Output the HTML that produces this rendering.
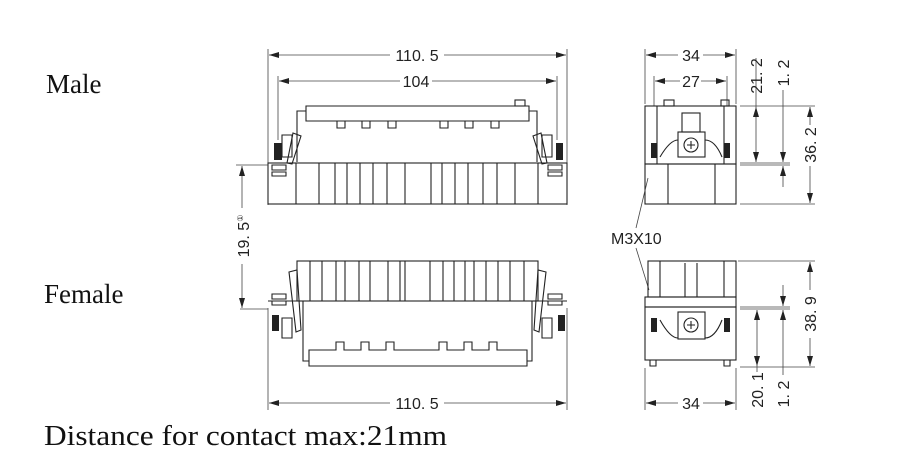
<!DOCTYPE html>
<html><head><meta charset="utf-8"><style>
html,body{margin:0;padding:0;background:#fff;width:900px;height:462px;overflow:hidden}
svg{display:block}
.l{stroke:#222;stroke-width:1.1;fill:none}
.t{stroke:#444;stroke-width:0.8;fill:none}
.d{font-family:"Liberation Sans",sans-serif;font-size:16px;fill:#222}
.s{font-family:"Liberation Serif",serif;fill:#111}
</style></head><body>
<svg width="900" height="462" viewBox="0 0 900 462" xmlns="http://www.w3.org/2000/svg">
<defs>
<marker id="a" viewBox="0 0 10 6" refX="10" refY="3" markerWidth="10" markerHeight="6" orient="auto-start-reverse" markerUnits="userSpaceOnUse"><path d="M0,0 L10,3 L0,6 z" fill="#222"/></marker>
</defs>
<text class="s" x="46" y="93" font-size="27">Male</text>
<text class="s" x="44" y="303" font-size="27">Female</text>
<text class="s" x="44" y="445" font-size="28" textLength="403" lengthAdjust="spacingAndGlyphs">Distance for contact max:21mm</text>

<!-- Male front -->
<g class="t">
<line x1="268" y1="49" x2="268" y2="205"/><line x1="567" y1="49" x2="567" y2="205"/>
<line x1="278" y1="76" x2="278" y2="140"/><line x1="557" y1="76" x2="557" y2="140"/>
</g>
<line class="t" x1="269" y1="55" x2="390" y2="55" marker-start="url(#a)"/>
<line class="t" x1="444" y1="55" x2="566" y2="55" marker-end="url(#a)"/>
<text class="d" x="417" y="61" text-anchor="middle">110. 5</text>
<line class="t" x1="279" y1="81" x2="400" y2="81" marker-start="url(#a)"/>
<line class="t" x1="432" y1="81" x2="556" y2="81" marker-end="url(#a)"/>
<text class="d" x="416" y="87" text-anchor="middle">104</text>
<g class="l">
<path d="M306,106 H529 V121 H306 Z"/>
<path d="M297,162 V111 H306 M529,111 H537 V162"/>
<path d="M337,121 v7 h8 v-7 M362,121 v7 h8 v-7 M388,121 v7 h8 v-7 M440,121 v7 h8 v-7 M465,121 v7 h8 v-7 M491,121 v7 h8 v-7"/>
<rect x="515" y="100" width="10" height="6"/>
<rect x="268" y="163" width="299" height="41"/>
<path d="M296,163V204 M319,163V204 M335,163V204 M347,163V204 M360,163V204 M373,163V204 M387,163V204 M405,163V204 M431,163V204 M442,163V204 M455,163V204 M468,163V204 M483,163V204 M497,163V204 M515,163V204 M538,163V204"/>
<path d="M293,133 L301,136 L292,164 L287,163 Z M541,133 L533,136 L542,164 L547,163 Z"/>
<path d="M282,135 h10 v22 h-10 z M552,135 h-10 v22 h10 z"/>
<path d="M272,165 h14 v5 h-14 z M272,172 h14 v4 h-14 z M562,165 h-14 v5 h14 z M562,172 h-14 v4 h14 z"/>
</g>
<rect x="274" y="143" width="8" height="17" fill="#222"/>
<rect x="556" y="143" width="7" height="17" fill="#222"/>

<!-- 19.5 -->
<line class="t" x1="236" y1="165" x2="268" y2="165"/>
<line class="t" x1="240" y1="309" x2="268" y2="309"/>
<line class="t" x1="242" y1="166" x2="242" y2="208" marker-start="url(#a)"/>
<line class="t" x1="242" y1="264" x2="242" y2="308" marker-end="url(#a)"/>
<text class="d" transform="translate(249,236) rotate(-90)" text-anchor="middle">19. 5<tspan font-size="8" dy="-6">①</tspan></text>

<!-- Female front -->
<g class="l">
<rect x="297" y="261" width="241" height="40"/>
<path d="M310,261V301 M322,261V301 M336,261V301 M345,261V301 M359,261V301 M370,261V301 M388,261V301 M400,261V301 M405,261V301 M430,261V301 M443,261V301 M454,261V301 M465,261V301 M474,261V301 M486,261V301 M498,261V301 M510,261V301 M524,261V301"/>
<line x1="268" y1="301" x2="567" y2="301"/>
<path d="M303,301 V361 H309 M532,301 V361 H527"/>
<path d="M309,350 H336 v-8 h8 v8 h17 v-8 h8 v8 h17 v-8 h8 v8 h45 v-8 h8 v8 h17 v-8 h8 v8 h17 v-8 h8 v8 H527 V366 H309 Z"/>
<path d="M289,272 L297,270 L301,330 L296,332 Z M546,272 L538,270 L534,330 L539,332 Z"/>
<path d="M282,318 h10 v20 h-10 z M552,318 h-10 v20 h10 z"/>
<path d="M272,294 h14 v5 h-14 z M272,301 h14 v4 h-14 z M562,294 h-14 v5 h14 z M562,301 h-14 v4 h14 z"/>
</g>
<rect x="272" y="315" width="7" height="16" fill="#222"/>
<rect x="558" y="315" width="7" height="16" fill="#222"/>
<line class="t" x1="268" y1="308" x2="268" y2="410"/><line class="t" x1="567" y1="308" x2="567" y2="410"/>
<line class="t" x1="269" y1="403" x2="390" y2="403" marker-start="url(#a)"/>
<line class="t" x1="444" y1="403" x2="566" y2="403" marker-end="url(#a)"/>
<text class="d" x="417" y="409" text-anchor="middle">110. 5</text>

<!-- Male side -->
<g class="t">
<line x1="645" y1="49" x2="645" y2="104"/><line x1="736" y1="49" x2="736" y2="104"/>
<line x1="654" y1="76" x2="654" y2="106"/><line x1="727" y1="76" x2="727" y2="106"/>
<line x1="740" y1="106" x2="815" y2="106"/><line x1="740" y1="163" x2="790" y2="163"/><line x1="740" y1="165" x2="790" y2="165"/><line x1="740" y1="204" x2="815" y2="204"/>
</g>
<line class="t" x1="646" y1="55" x2="678" y2="55" marker-start="url(#a)"/>
<line class="t" x1="703" y1="55" x2="735" y2="55" marker-end="url(#a)"/>
<text class="d" x="691" y="61" text-anchor="middle">34</text>
<line class="t" x1="655" y1="81" x2="680" y2="81" marker-start="url(#a)"/>
<line class="t" x1="701" y1="81" x2="726" y2="81" marker-end="url(#a)"/>
<text class="d" x="691" y="87" text-anchor="middle">27</text>
<g class="l">
<rect x="645" y="106" width="91" height="58"/>
<rect x="645" y="164" width="91" height="40"/>
<path d="M657,106V164 M724,106V164 M668,164V204 M715,164V204"/>
<rect x="664" y="100" width="10" height="6"/><rect x="721" y="100" width="8" height="6"/>
<rect x="678" y="132" width="27" height="25"/><circle cx="691" cy="145" r="7"/>
<path d="M687,145h8M691,141v8 M660,157 Q670,140 678,140 M705,140 Q715,140 722,157"/>
<rect x="682" y="113" width="18" height="19"/>
</g>
<rect x="651" y="143" width="6" height="15" fill="#222"/><rect x="724" y="143" width="6" height="15" fill="#222"/>
<line class="t" x1="756" y1="58" x2="756" y2="107" />
<line class="t" x1="756" y1="107" x2="756" y2="162" marker-start="url(#a)" marker-end="url(#a)"/>
<text class="d" transform="translate(762,76) rotate(-90)" text-anchor="middle">21. 2</text>
<line class="t" x1="783" y1="90" x2="783" y2="162" marker-end="url(#a)"/>
<line class="t" x1="783" y1="187" x2="783" y2="166" marker-end="url(#a)"/>
<text class="d" transform="translate(789,73) rotate(-90)" text-anchor="middle">1. 2</text>
<line class="t" x1="810" y1="125" x2="810" y2="107" marker-end="url(#a)"/>
<line class="t" x1="810" y1="166" x2="810" y2="203" marker-end="url(#a)"/>
<text class="d" transform="translate(816,145) rotate(-90)" text-anchor="middle">36. 2</text>

<!-- M3X10 -->
<text class="d" x="611" y="244" font-size="14">M3X10</text>
<line class="t" x1="648" y1="178" x2="636" y2="228"/>
<line class="t" x1="636" y1="248" x2="649" y2="290"/>

<!-- Female side -->
<g class="l">
<rect x="648" y="261" width="88" height="36"/>
<path d="M660,261V297 M724,261V297 M685,263V297 M697,263V297"/>
<rect x="645" y="297" width="91" height="10"/>
<rect x="645" y="307" width="91" height="53"/>
<path d="M650,360v6h6v-6 M730,360v6h-6v-6"/>
<rect x="678" y="312" width="27" height="27"/><circle cx="691" cy="325" r="7"/>
<path d="M687,325h8M691,321v8 M660,320 Q670,338 678,338 M705,338 Q715,338 722,320"/>
</g>
<rect x="651" y="318" width="6" height="14" fill="#222"/><rect x="724" y="318" width="6" height="14" fill="#222"/>
<g class="t">
<line x1="738" y1="261" x2="815" y2="261"/><line x1="740" y1="307" x2="790" y2="307"/><line x1="740" y1="309" x2="790" y2="309"/><line x1="740" y1="367" x2="815" y2="367"/>
<line x1="645" y1="368" x2="645" y2="410"/><line x1="736" y1="368" x2="736" y2="410"/>
</g>
<line class="t" x1="810" y1="290" x2="810" y2="262" marker-end="url(#a)"/>
<line class="t" x1="810" y1="338" x2="810" y2="366" marker-end="url(#a)"/>
<text class="d" transform="translate(816,314) rotate(-90)" text-anchor="middle">38. 9</text>
<line class="t" x1="757" y1="310" x2="757" y2="366" marker-start="url(#a)" marker-end="url(#a)"/>
<line class="t" x1="757" y1="366" x2="757" y2="372"/>
<text class="d" transform="translate(763,390) rotate(-90)" text-anchor="middle">20. 1</text>
<line class="t" x1="783" y1="285" x2="783" y2="306" marker-end="url(#a)"/>
<line class="t" x1="783" y1="375" x2="783" y2="310" marker-end="url(#a)"/>
<text class="d" transform="translate(789,394) rotate(-90)" text-anchor="middle">1. 2</text>
<line class="t" x1="646" y1="403" x2="678" y2="403" marker-start="url(#a)"/>
<line class="t" x1="703" y1="403" x2="735" y2="403" marker-end="url(#a)"/>
<text class="d" x="691" y="409" text-anchor="middle">34</text>
</svg>
</body></html>
